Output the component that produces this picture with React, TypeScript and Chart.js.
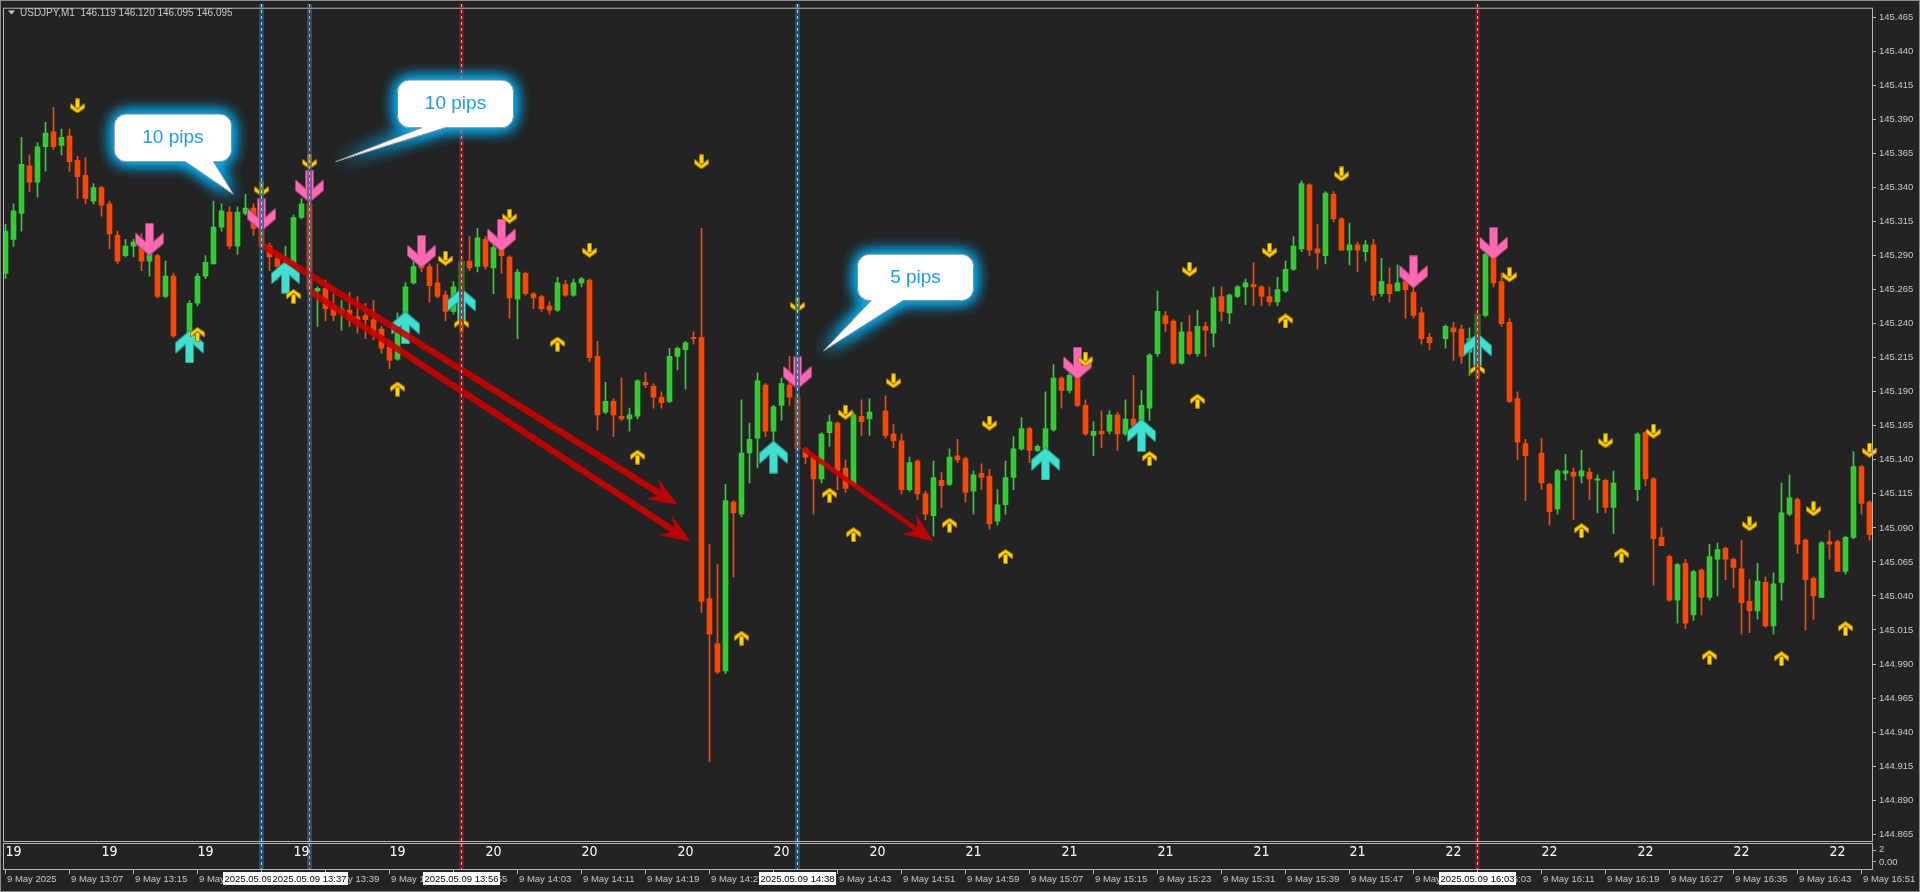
import React, { useEffect, useRef } from 'react';
import { Chart, registerables } from 'chart.js';

Chart.register(...registerables);

// ---------------- data (bar index = minute since 12:59) ----------------
const openP = [
  145.277,145.302,145.321,145.356,145.344,145.370,145.381,145.371,145.378,145.360,
  145.349,145.330,145.340,145.328,145.305,145.290,145.297,145.301,145.286,145.290,
  145.260,145.275,null,145.231,145.255,145.275,145.284,145.311,145.322,145.297,
  145.321,145.325,145.311,145.297,145.288,145.282,145.284,145.318,145.328,145.264,
  145.266,145.253,145.248,145.250,145.245,145.246,145.243,145.236,145.223,145.214,
  145.247,145.270,145.283,145.282,145.270,145.261,145.249,145.248,145.286,145.282,
  145.302,145.281,145.296,145.289,145.258,145.277,145.262,145.260,145.253,145.250,
  145.269,145.261,145.270,145.272,145.216,145.175,145.183,145.172,145.170,145.172,
  145.197,145.194,145.186,145.183,145.216,145.221,145.230,145.230,145.038,145.005,
  144.985,145.109,145.100,145.145,145.156,145.195,145.161,145.180,145.195,145.186,
  145.148,145.142,145.126,145.160,145.167,145.134,145.122,145.172,145.170,null,
  145.176,145.159,145.154,145.118,145.139,145.115,145.099,145.125,145.122,145.143,
  145.141,145.117,145.130,145.128,145.095,145.107,145.127,145.148,145.163,145.147,
  145.148,145.162,145.200,145.191,145.202,145.180,145.158,145.161,145.161,145.173,
  145.159,145.170,145.165,145.178,145.218,145.246,145.242,145.211,145.234,145.218,
  145.238,145.233,145.260,145.248,145.260,145.267,145.269,145.267,145.260,145.256,
  145.264,145.280,145.295,145.342,145.295,145.290,145.335,145.317,145.294,145.298,
  145.293,145.298,145.262,145.269,145.264,145.271,145.263,145.248,145.230,null,
  145.229,145.237,145.236,145.219,145.222,145.246,145.291,145.271,145.241,145.185,
  145.152,null,145.145,145.122,145.104,145.130,145.131,145.128,145.131,145.125,
  145.125,145.105,null,null,145.118,145.160,145.126,145.083,145.069,145.037,
  145.064,145.026,145.059,145.039,145.067,145.075,145.067,145.060,145.036,145.029,
  145.050,145.018,145.050,145.100,145.111,145.081,145.053,145.039,145.080,145.080,
  145.058,145.083,145.135,145.109,
];
const highP = [
  145.313,145.328,145.377,145.364,145.373,145.388,145.399,145.383,145.383,145.363,
  145.362,145.343,145.341,145.330,145.308,145.302,145.302,145.306,145.294,145.291,
  145.286,145.277,null,145.257,145.277,145.290,145.330,145.328,145.326,145.326,
  145.335,145.328,145.313,145.299,145.291,145.297,145.320,145.332,145.330,145.267,
  145.272,145.262,145.257,145.263,145.260,145.255,145.257,145.238,145.226,145.248,
  145.270,145.288,145.284,145.284,145.284,145.264,145.271,145.288,145.304,145.310,
  145.304,145.299,145.299,145.290,145.280,145.278,145.263,145.261,145.256,145.274,
  145.272,145.273,145.274,145.273,145.227,145.197,145.185,145.200,145.178,145.199,
  145.204,145.196,145.190,145.222,145.223,145.227,145.234,145.310,145.078,145.063,
  145.122,145.110,145.184,145.167,145.204,145.196,145.180,145.200,145.216,145.189,
  145.149,145.143,145.160,145.173,145.168,145.140,145.175,145.184,145.185,null,
  145.187,145.166,145.159,145.142,145.140,145.117,145.139,145.131,145.148,145.155,
  145.142,145.132,145.137,145.133,145.118,145.139,145.157,145.171,145.164,145.151,
  145.190,145.210,145.201,145.204,145.204,145.184,145.168,145.176,145.176,145.175,
  145.184,145.202,145.191,145.218,145.264,145.249,145.243,145.241,145.246,145.250,
  145.241,145.267,145.267,145.262,145.268,145.273,145.285,145.268,145.267,145.274,
  145.286,145.304,145.345,145.343,145.313,145.337,145.337,145.318,145.314,145.300,
  145.301,145.302,145.288,145.281,145.283,145.275,145.266,145.252,145.233,null,
  145.239,145.241,145.239,145.237,145.248,145.292,145.292,145.277,145.244,145.190,
  145.155,null,145.156,145.123,145.133,145.144,145.134,145.147,145.134,145.129,
  145.126,145.132,null,null,145.160,145.161,145.127,145.090,145.070,145.064,
  145.067,145.059,145.060,145.078,145.079,145.076,145.068,145.081,145.052,145.064,
  145.054,145.057,145.123,145.129,145.112,145.082,145.054,145.080,145.088,145.081,
  145.084,145.146,145.136,145.110,
];
const lowP = [
  145.273,145.297,145.308,145.337,145.333,145.352,145.368,145.364,145.352,145.332,
  145.328,145.328,145.319,145.295,145.284,145.289,145.289,145.279,145.275,145.259,
  145.259,145.230,null,145.229,145.253,145.273,145.284,145.308,145.295,145.291,
  145.320,145.305,145.296,145.279,145.272,145.280,145.283,145.317,145.264,145.238,
  145.242,145.242,145.235,145.238,145.233,145.229,145.228,145.218,145.207,145.213,
  145.246,145.269,145.278,145.256,145.259,145.242,145.247,145.242,145.279,145.278,
  145.280,145.262,145.277,145.244,145.229,145.261,145.251,145.249,145.247,145.249,
  145.260,145.260,145.267,145.212,145.162,145.174,145.157,145.169,145.161,145.170,
  145.193,145.178,145.178,145.182,145.206,145.192,145.225,145.028,144.918,144.983,
  144.983,145.054,145.098,145.123,145.134,145.157,145.147,145.169,145.180,145.147,
  145.137,145.100,145.123,145.150,145.118,145.116,145.121,145.158,145.158,null,
  145.156,145.149,145.115,145.117,145.111,145.096,145.084,145.105,145.121,145.138,
  145.109,145.100,145.118,145.089,145.092,145.100,145.118,145.147,145.138,145.146,
  145.147,145.161,145.178,145.189,145.179,145.158,145.143,145.149,145.159,145.147,
  145.158,145.164,145.164,145.169,145.216,145.234,145.210,145.210,145.217,145.216,
  145.216,145.223,145.242,145.240,145.259,145.254,145.253,145.253,145.253,145.253,
  145.263,145.279,145.293,145.290,145.280,145.284,145.315,145.294,145.283,145.278,
  145.286,145.257,145.260,145.256,145.264,145.244,145.244,145.225,145.221,null,
  145.222,145.213,145.211,145.202,145.207,145.245,145.267,145.238,145.182,145.140,
  145.110,null,145.118,145.092,145.100,145.125,145.096,145.123,145.111,145.101,
  145.101,145.086,null,null,145.110,145.121,145.048,145.077,145.036,145.020,
  145.016,145.022,145.026,145.037,145.040,145.052,145.046,145.012,145.013,145.023,
  145.017,145.012,145.037,145.099,145.071,145.015,145.023,145.039,145.067,145.058,
  145.056,145.082,145.100,145.081,
];
const closeP = [
  145.308,145.323,145.357,145.344,145.370,145.380,145.370,145.377,145.359,145.348,
  145.332,145.340,145.327,145.306,145.286,145.297,145.300,145.286,145.292,145.260,
  145.275,145.231,null,145.255,145.275,145.285,145.311,145.323,145.297,145.322,
  145.325,145.310,145.297,145.289,145.282,145.284,145.318,145.328,145.265,145.266,
  145.251,145.246,145.251,145.243,145.243,145.243,145.233,145.222,145.213,145.242,
  145.267,145.282,145.281,145.268,145.260,145.249,145.267,145.286,145.281,145.303,
  145.282,145.296,145.290,145.259,145.278,145.262,145.259,145.251,145.250,145.270,
  145.261,145.270,145.273,145.215,145.173,145.183,145.173,145.170,145.173,145.198,
  145.195,145.186,145.182,145.216,145.222,145.226,145.229,145.036,145.012,144.984,
  145.110,145.101,145.145,145.155,145.198,145.161,145.179,145.196,145.186,145.148,
  145.142,145.126,145.159,145.168,145.132,145.119,145.173,145.168,145.175,null,
  145.158,145.154,145.118,145.138,145.115,145.100,145.127,145.121,145.142,145.140,
  145.116,145.129,145.127,145.093,145.107,145.127,145.148,145.163,145.147,145.150,
  145.163,145.200,145.191,145.202,145.180,145.159,145.161,145.159,145.173,145.159,
  145.170,145.165,145.180,145.217,145.249,145.240,145.211,145.234,145.218,145.238,
  145.235,145.259,145.249,145.261,145.267,145.270,145.267,145.260,145.256,145.265,
  145.280,145.297,145.343,145.294,145.292,145.336,145.317,145.294,145.298,145.294,
  145.298,145.261,145.271,145.262,145.270,145.265,145.246,145.229,145.226,null,
  145.238,145.234,145.216,145.229,145.247,145.291,145.270,145.240,145.183,145.153,
  145.143,null,145.123,145.102,145.132,145.132,145.128,145.132,145.126,145.126,
  145.105,145.123,null,null,145.159,145.126,145.082,145.077,145.037,145.063,
  145.020,145.058,145.039,145.069,145.074,145.067,145.061,145.035,145.029,145.051,
  145.018,145.049,145.101,145.112,145.078,145.052,145.040,145.079,145.078,145.058,
  145.083,145.135,145.108,145.085,
];

const priceTicks = [
  145.465,145.44,145.415,145.39,145.365,145.34,145.315,145.29,145.265,145.24,145.215,145.19,145.165,
  145.14,145.115,145.09,145.065,145.04,145.015,144.99,144.965,144.94,144.915,144.89,144.865,
];
const timeLabels = [
  '9 May 2025','9 May 13:07','9 May 13:15','9 May 13:23','9 May 13:31','9 May 13:39','9 May 13:47',
  '9 May 13:55','9 May 14:03','9 May 14:11','9 May 14:19','9 May 14:27','9 May 14:35','9 May 14:43',
  '9 May 14:51','9 May 14:59','9 May 15:07','9 May 15:15','9 May 15:23','9 May 15:31','9 May 15:39',
  '9 May 15:47','9 May 15:55','9 May 16:03','9 May 16:11','9 May 16:19','9 May 16:27','9 May 16:35',
  '9 May 16:43','9 May 16:51',
];
const hourLabels = ['19','19','19','19','19','20','20','20','20','20','21','21','21','21','21','22','22','22','22','22'];

const yellowDownIdx = [9,32,38,55,63,73,87,99,105,111,123,135,148,158,167,188,200,206,218,226,233];
const yellowDownPrice = [145.400,145.339,145.359,145.288,145.319,145.294,145.359,145.254,145.175,145.198,145.167,145.214,145.280,145.294,145.350,145.276,145.154,145.161,145.093,145.104,145.147];
const yellowUpIdx = [24,36,49,57,69,79,92,103,106,118,125,143,149,160,184,197,202,213,222,230];
const yellowUpPrice = [145.232,145.260,145.192,145.239,145.225,145.142,145.009,145.114,145.085,145.092,145.069,145.141,145.183,145.242,145.205,145.088,145.070,144.995,144.994,145.016];
const pinkIdx = [18,32,38,52,62,99,134,176,186];
const pinkPrice = [145.302,145.320,145.341,145.293,145.305,145.204,145.211,145.278,145.299];
const cyanIdx = [23,35,50,57,96,130,142,184];
const cyanPrice = [145.223,145.274,145.237,145.254,145.142,145.137,145.158,145.221];

const trendFromIdx = [32.25, 38, 99.75];
const trendFromPrice = [145.297, 145.264, 145.148];
const trendToIdx = [84, 85.6, 116];
const trendToPrice = [145.107, 145.080, 145.080];

const vLineIdx = [32, 38, 57, 99, 184];
const vLineKind = ['blue', 'mixed', 'red', 'blue', 'red'];
const vLineLabels = ['2025.05.09 13:31', '2025.05.09 13:37', '2025.05.09 13:56', '2025.05.09 14:38', '2025.05.09 16:03'];

const calloutText = ['10 pips', '10 pips', '5 pips'];
const calloutLeftIdx = [13.6, 49, 106.5];
const calloutRightIdx = [28.25, 63.5, 121];
const calloutTopPrice = [145.394, 145.419, 145.291];
const calloutBottomPrice = [145.359, 145.384, 145.257];
const calloutBaseFromIdx = [22.5, 52, 108.2];
const calloutBaseToIdx = [26, 55, 112.2];
const calloutTipIdx = [28.5, 41.25, 102.25];
const calloutTipPrice = [145.335, 145.359, 145.220];

// ---------------- styles ----------------
const BG = '#232323';
const UP = '#32CD32';
const DN = '#FF4500';
const TXT = '#C8C8C8';
const FRAME = '#B4B4B4';
const FONT_FAMILY = '"Liberation Sans", Arial, sans-serif';
const SMALL = '9.5px ' + FONT_FAMILY;

function makeArrow(w: number, h: number, shapes: number[][][], fill: string, edge: string) {
  const c = document.createElement('canvas');
  c.width = w + 2;
  c.height = h + 2;
  const g = c.getContext('2d') as CanvasRenderingContext2D;
  g.translate(1, 1);
  const path = (pts: number[][]) => {
    g.beginPath();
    pts.forEach((p, k) => (k ? g.lineTo(p[0], p[1]) : g.moveTo(p[0], p[1])));
    g.closePath();
  };
  g.lineJoin = 'round';
  g.strokeStyle = edge;
  g.lineWidth = 2;
  shapes.forEach((s) => { path(s); g.stroke(); });
  g.fillStyle = fill;
  shapes.forEach((s) => { path(s); g.fill(); });
  return c;
}
const flip = (shapes: number[][][], h: number) => shapes.map((s) => s.map((p) => [p[0], h - p[1]]));

function drawTrendArrow(c: CanvasRenderingContext2D, x1: number, y1: number, x2: number, y2: number, w: number, hl: number, hw: number) {
  const dx = x2 - x1, dy = y2 - y1, L = Math.hypot(dx, dy);
  const ux = dx / L, uy = dy / L, nx = -uy, ny = ux;
  const bx = x2 - ux * hl * 0.72, by = y2 - uy * hl * 0.72;
  c.beginPath();
  c.moveTo(x1 + nx * w / 2, y1 + ny * w / 2);
  c.lineTo(bx + nx * w / 2, by + ny * w / 2);
  c.lineTo(x2 - ux * hl + nx * hw, y2 - uy * hl + ny * hw);
  c.lineTo(x2, y2);
  c.lineTo(x2 - ux * hl - nx * hw, y2 - uy * hl - ny * hw);
  c.lineTo(bx - nx * w / 2, by - ny * w / 2);
  c.lineTo(x1 - nx * w / 2, y1 - ny * w / 2);
  c.closePath();
  c.fill();
}

function calloutPath(c: CanvasRenderingContext2D, L: number, T: number, R: number, B: number, r: number, b1: number, b2: number, tx: number, ty: number) {
  c.beginPath();
  c.moveTo(L + r, T);
  c.lineTo(R - r, T);
  c.arcTo(R, T, R, T + r, r);
  c.lineTo(R, B - r);
  c.arcTo(R, B, R - r, B, r);
  c.lineTo(b2, B);
  c.lineTo(tx, ty);
  c.lineTo(b1, B);
  c.lineTo(L + r, B);
  c.arcTo(L, B, L, B - r, r);
  c.lineTo(L, T + r);
  c.arcTo(L, T, L + r, T, r);
  c.closePath();
}

const overlayPlugin = {
  id: 'mt4overlay',
  beforeDraw(chart: any) {
    const c = chart.ctx;
    c.save();
    c.fillStyle = BG;
    c.fillRect(0, 0, chart.width, chart.height);
    c.restore();
  },
  afterDatasetsDraw(chart: any) {
    const c: CanvasRenderingContext2D = chart.ctx;
    const xs = chart.scales.x, ys = chart.scales.y, a = chart.chartArea;
    c.save();
    c.beginPath();
    c.rect(a.left, a.top, a.right - a.left, a.bottom - a.top);
    c.clip();
    c.fillStyle = 'rgba(204,0,0,0.9)';
    trendFromIdx.forEach((_, k) => {
      const w = k < 2 ? 6.5 : 5;
      drawTrendArrow(c,
        xs.getPixelForValue(trendFromIdx[k]), ys.getPixelForValue(trendFromPrice[k]),
        xs.getPixelForValue(trendToIdx[k]), ys.getPixelForValue(trendToPrice[k]),
        w, 30, 12);
    });
    c.restore();

    c.save();
    vLineIdx.forEach((idx, k) => {
      const x = xs.getPixelForValue(idx);
      const kind = vLineKind[k];
      const band = kind === 'red' ? 'rgba(150,22,32,0.72)' : kind === 'blue' ? 'rgba(28,100,140,0.72)' : 'rgba(62,92,125,0.68)';
      const dash = kind === 'red' ? '#F0A8A8' : kind === 'blue' ? '#A8E0F8' : '#E8A0B8';
      c.fillStyle = band;
      c.fillRect(x - 2.5, 4, 5, 865);
      c.strokeStyle = dash;
      c.lineWidth = 1;
      c.setLineDash([3, 3]);
      c.beginPath();
      c.moveTo(x, 4);
      c.lineTo(x, 869);
      c.stroke();
      c.setLineDash([]);
    });
    c.restore();
  },
  afterDraw(chart: any) {
    const c: CanvasRenderingContext2D = chart.ctx;
    const xs = chart.scales.x, ys = chart.scales.y, a = chart.chartArea;
    c.save();
    c.strokeStyle = '#8C8C8C';
    c.lineWidth = 1;
    c.strokeRect(0.5, 0.5, chart.width - 1, chart.height - 1);
    c.strokeStyle = FRAME;
    c.strokeRect(a.left - 0.5, a.top - 0.5, a.right - a.left + 1, a.bottom - a.top + 1);
    c.strokeRect(a.left - 0.5, 843.5, a.right - a.left + 1, 26);

    // title
    c.fillStyle = TXT;
    c.beginPath();
    c.moveTo(8, 10.5);
    c.lineTo(15, 10.5);
    c.lineTo(11.5, 14.5);
    c.closePath();
    c.fill();
    c.font = '10px ' + FONT_FAMILY;
    c.textBaseline = 'middle';
    c.textAlign = 'left';
    c.fillText('USDJPY,M1  146.119 146.120 146.095 146.095', 20, 13);

    // sub window labels
    c.fillStyle = '#FFFFFF';
    c.font = '14px "Liberation Sans Narrow", "DejaVu Sans Condensed", ' + FONT_FAMILY;
    c.textAlign = 'center';
    hourLabels.forEach((t, k) => {
      c.fillText(t, xs.getPixelForValue(1 + 12 * k), 852.5);
    });
    c.fillStyle = TXT;
    c.font = SMALL;
    c.textAlign = 'left';
    c.fillText('2', 1879, 849);
    c.fillText('0.00', 1879, 862);
    c.strokeStyle = FRAME;
    c.beginPath();
    c.moveTo(a.right, 850.5); c.lineTo(a.right + 4, 850.5);
    c.moveTo(a.right, 861.5); c.lineTo(a.right + 4, 861.5);
    c.stroke();

    // time axis
    c.strokeStyle = FRAME;
    c.fillStyle = TXT;
    c.font = SMALL;
    c.textAlign = 'left';
    timeLabels.forEach((t, k) => {
      const x = xs.getPixelForValue(8 * k);
      c.beginPath();
      c.moveTo(x, 870);
      c.lineTo(x, 874);
      c.stroke();
      c.fillText(t, x + 1.5, 879.5);
    });

    // line label boxes
    c.textAlign = 'center';
    vLineIdx.forEach((idx, k) => {
      const x = xs.getPixelForValue(idx);
      const w = c.measureText(vLineLabels[k]).width + 3;
      c.fillStyle = '#FFFFFF';
      c.fillRect(Math.round(x - w / 2), 872, Math.round(w), 13);
      c.fillStyle = '#000000';
      c.fillText(vLineLabels[k], x, 879);
    });

    // callouts
    calloutText.forEach((txt, k) => {
      const L = xs.getPixelForValue(calloutLeftIdx[k]);
      const R = xs.getPixelForValue(calloutRightIdx[k]);
      const T = ys.getPixelForValue(calloutTopPrice[k]);
      const B = ys.getPixelForValue(calloutBottomPrice[k]);
      const b1 = xs.getPixelForValue(calloutBaseFromIdx[k]);
      const b2 = xs.getPixelForValue(calloutBaseToIdx[k]);
      const tx = xs.getPixelForValue(calloutTipIdx[k]);
      const ty = ys.getPixelForValue(calloutTipPrice[k]);
      c.save();
      c.shadowColor = 'rgba(0,175,245,1)';
      c.shadowBlur = 16;
      c.fillStyle = '#FFFFFF';
      for (let r = 0; r < 3; r++) {
        calloutPath(c, L, T, R, B, 12, b1, b2, tx, ty);
        c.fill();
      }
      c.restore();
      calloutPath(c, L, T, R, B, 12, b1, b2, tx, ty);
      c.fillStyle = '#FFFFFF';
      c.fill();
      c.strokeStyle = '#8A8A8A';
      c.lineWidth = 1;
      c.stroke();
      c.fillStyle = '#1B9DE2';
      c.font = '19px ' + FONT_FAMILY;
      c.textAlign = 'center';
      c.textBaseline = 'middle';
      c.fillText(txt, (L + R) / 2, (T + B) / 2);
    });
    c.restore();
  },
};

export default function App() {
  const ref = useRef<HTMLCanvasElement>(null);

  useEffect(() => {
    document.body.style.margin = '0';
    document.body.style.background = BG;
    const canvas = ref.current as HTMLCanvasElement;

    const yShaft = [[5, 0], [8, 0], [8, 8], [5, 8]];
    const yHead = [[0, 5], [6.5, 10.5], [13, 5], [13, 8.5], [6.5, 13], [0, 8.5]];
    const pShaft = [[10, 0], [17, 0], [17, 24], [10, 24]];
    const pHead = [[0, 10], [13.5, 22], [27, 10], [27, 19.5], [13.5, 31], [0, 19.5]];
    const yellowDownImg = makeArrow(13, 13, [yShaft, yHead], '#FFD700', '#B07A00');
    const yellowUpImg = makeArrow(13, 13, flip([yShaft, yHead], 13), '#FFD700', '#B07A00');
    const pinkImg = makeArrow(27, 31, [pShaft, pHead], '#FF69B4', '#A8407C');
    const cyanImg = makeArrow(27, 31, flip([pShaft, pHead], 31), '#40E0D0', '#22948A');

    const bodies: any[] = [];
    const wicks: any[] = [];
    const colors: string[] = [];
    openP.forEach((o, i) => {
      const cl = closeP[i], h = highP[i], l = lowP[i];
      if (o === null || cl === null || h === null || l === null) return;
      bodies.push({ x: i, y: [o, cl] });
      wicks.push({ x: i, y: [l, h] });
      colors.push(cl >= o ? UP : DN);
    });

    const pts = (idx: number[], pr: number[]) => idx.map((x, k) => ({ x, y: pr[k] }));
    const marker = (data: any[], img: HTMLCanvasElement) => ({
      type: 'scatter',
      data,
      pointStyle: img,
      pointRadius: 8,
      showLine: false,
      clip: false,
    });

    const chart = new Chart(canvas, {
      type: 'bar',
      data: {
        datasets: [
          marker(pts(yellowDownIdx, yellowDownPrice), yellowDownImg),
          marker(pts(yellowUpIdx, yellowUpPrice), yellowUpImg),
          marker(pts(pinkIdx, pinkPrice), pinkImg),
          marker(pts(cyanIdx, cyanPrice), cyanImg),
          {
            type: 'bar',
            data: bodies,
            backgroundColor: colors,
            barThickness: 5,
            grouped: false,
            minBarLength: 1,
            borderWidth: 0,
          },
          {
            type: 'bar',
            data: wicks,
            backgroundColor: colors,
            barThickness: 1,
            grouped: false,
            minBarLength: 1,
            borderWidth: 0,
          },
        ] as any,
      },
      options: {
        responsive: false,
        animation: false,
        devicePixelRatio: 1,
        events: [],
        layout: { autoPadding: false, padding: { left: 4, top: 4, right: 0, bottom: 51 } },
        plugins: { legend: { display: false }, tooltip: { enabled: false } },
        scales: {
          x: {
            type: 'linear',
            min: -0.1875,
            max: 233.3125,
            offset: false,
            display: false,
            grid: { display: false },
          },
          y: {
            type: 'linear',
            position: 'right',
            min: 144.86,
            max: 145.4714,
            afterBuildTicks: (axis: any) => {
              axis.ticks = priceTicks.map((v) => ({ value: v }));
            },
            afterFit: (axis: any) => {
              axis.width = 48;
            },
            border: { display: false },
            grid: { drawOnChartArea: false, drawTicks: true, tickLength: 4, color: FRAME },
            ticks: {
              autoSkip: false,
              padding: 3,
              color: TXT,
              font: { family: '"Liberation Sans", Arial, sans-serif', size: 9.5 },
              callback: (v: any) => Number(v).toFixed(3),
            },
          },
        },
      } as any,
      plugins: [overlayPlugin as any],
    });

    return () => chart.destroy();
  }, []);

  return (
    <div style={{ position: 'fixed', left: 0, top: 0, width: 1920, height: 892, background: BG }}>
      <canvas ref={ref} width={1920} height={892} style={{ display: 'block', width: 1920, height: 892 }} />
    </div>
  );
}
